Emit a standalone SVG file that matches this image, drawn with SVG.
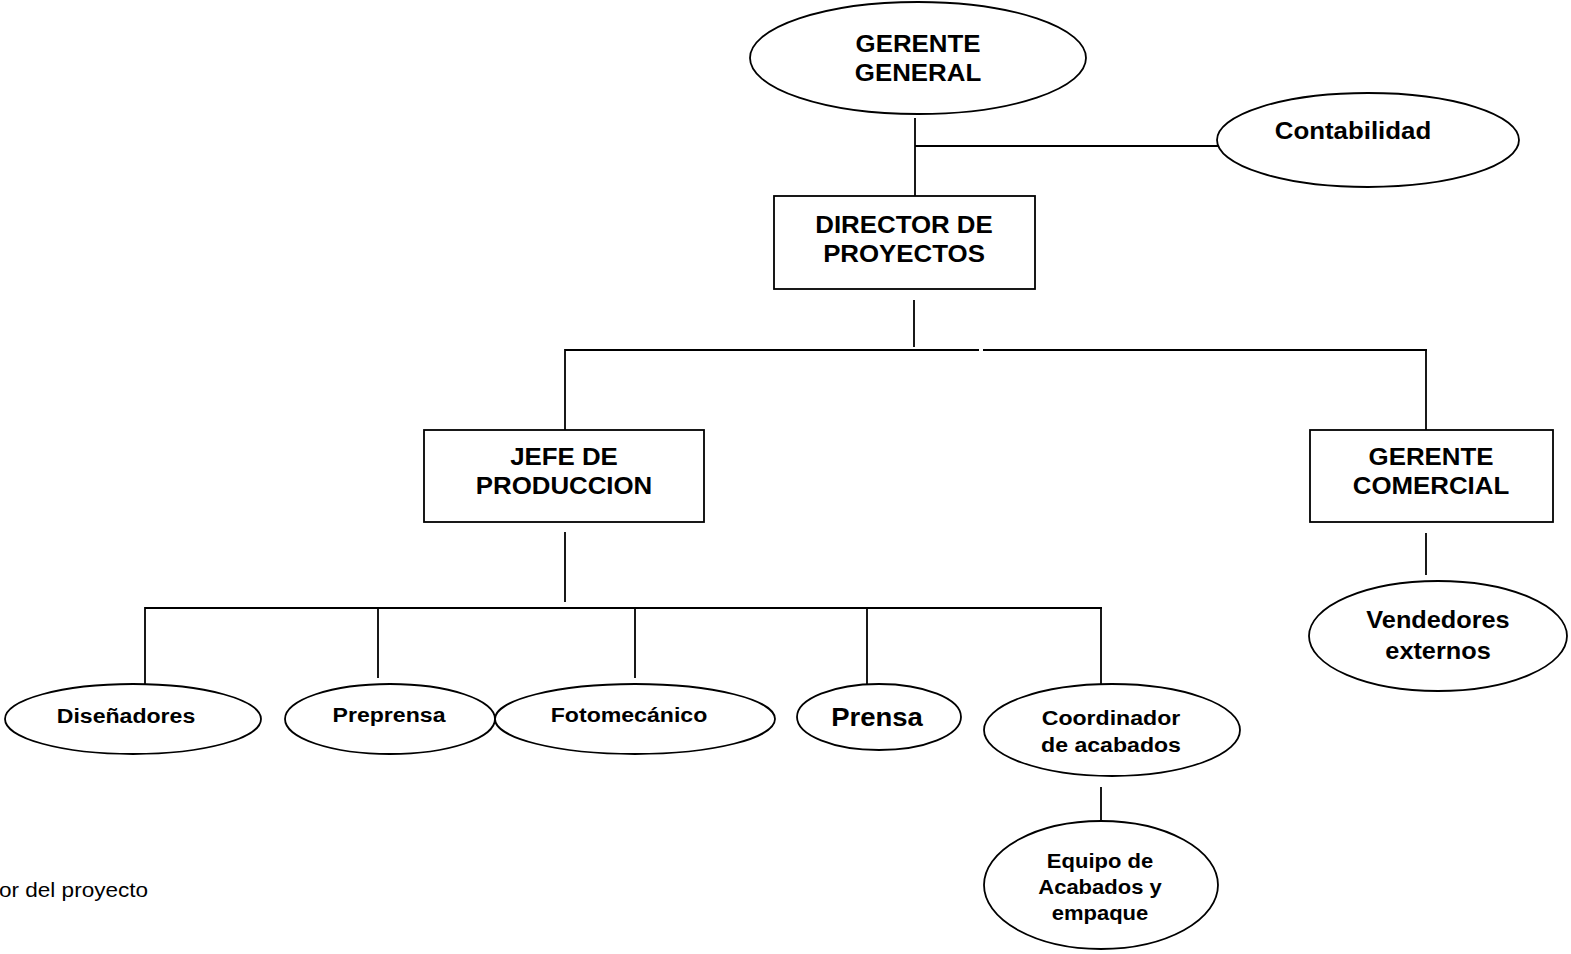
<svg xmlns="http://www.w3.org/2000/svg" width="1571" height="954" viewBox="0 0 1571 954">
<style>
.n{fill:#fff;stroke:#000;stroke-width:1.8}
.c line{stroke:#000;stroke-width:1.8}
text{font-family:"Liberation Sans",Arial,sans-serif;font-weight:bold;fill:#000;text-anchor:middle}
.b{font-size:23.5px}
.s{font-size:21px}
.r{font-weight:normal;text-anchor:start;font-size:20.5px}
</style>
<rect width="1571" height="954" fill="#fff"/>
<g class="c" id="connectors">
<line x1="915" y1="118" x2="915" y2="196"/>
<line x1="915" y1="146" x2="1218" y2="146"/>
<line x1="914" y1="300" x2="914" y2="347"/>
<line x1="565" y1="350" x2="979" y2="350"/>
<line x1="983" y1="350" x2="1427" y2="350"/>
<line x1="565" y1="349" x2="565" y2="430"/>
<line x1="1426" y1="349" x2="1426" y2="430"/>
<line x1="565" y1="532" x2="565" y2="602"/>
<line x1="145" y1="608" x2="1102" y2="608"/>
<line x1="145" y1="607" x2="145" y2="684"/>
<line x1="378" y1="607" x2="378" y2="678"/>
<line x1="635" y1="607" x2="635" y2="678"/>
<line x1="867" y1="607" x2="867" y2="684"/>
<line x1="1101" y1="607" x2="1101" y2="684"/>
<line x1="1101" y1="787" x2="1101" y2="820"/>
<line x1="1426" y1="533" x2="1426" y2="575"/>
</g>
<g id="gerente-general">
<ellipse class="n" cx="918" cy="58" rx="168" ry="56"/>
<text class="b" transform="translate(918 52) scale(1.1 1)">GERENTE</text>
<text class="b" transform="translate(918 81) scale(1.1 1)">GENERAL</text>
</g>
<g id="contabilidad">
<ellipse class="n" cx="1368" cy="140" rx="151" ry="47"/>
<text class="b" transform="translate(1353 139) scale(1.1 1)">Contabilidad</text>
</g>
<g id="director">
<rect class="n" x="774" y="196" width="261" height="93"/>
<text class="b" transform="translate(904 233) scale(1.1 1)">DIRECTOR DE</text>
<text class="b" transform="translate(904 262) scale(1.1 1)">PROYECTOS</text>
</g>
<g id="jefe-produccion">
<rect class="n" x="424" y="430" width="280" height="92"/>
<text class="b" transform="translate(564 465) scale(1.1 1)">JEFE DE</text>
<text class="b" transform="translate(564 494) scale(1.1 1)">PRODUCCION</text>
</g>
<g id="gerente-comercial">
<rect class="n" x="1310" y="430" width="243" height="92"/>
<text class="b" transform="translate(1431 465) scale(1.1 1)">GERENTE</text>
<text class="b" transform="translate(1431 494) scale(1.1 1)">COMERCIAL</text>
</g>
<g id="vendedores">
<ellipse class="n" cx="1438" cy="636" rx="129" ry="55"/>
<text class="b" style="font-size:23px" transform="translate(1438 628) scale(1.1 1)">Vendedores</text>
<text class="b" style="font-size:23px" transform="translate(1438 659) scale(1.1 1)">externos</text>
</g>
<g id="disenadores">
<ellipse class="n" cx="133" cy="719" rx="128" ry="35"/>
<text class="s" transform="translate(126 723) scale(1.1 1)">Diseñadores</text>
</g>
<g id="preprensa">
<ellipse class="n" cx="390" cy="719" rx="105" ry="35"/>
<text class="s" transform="translate(389 722) scale(1.1 1)">Preprensa</text>
</g>
<g id="fotomecanico">
<ellipse class="n" cx="635" cy="719" rx="140" ry="35"/>
<text class="s" transform="translate(629 722) scale(1.1 1)">Fotomecánico</text>
</g>
<g id="prensa">
<ellipse class="n" cx="879" cy="717" rx="82" ry="33"/>
<text class="s" style="font-size:25px" transform="translate(877 726) scale(1.1 1)">Prensa</text>
</g>
<g id="coordinador">
<ellipse class="n" cx="1112" cy="730" rx="128" ry="46"/>
<text class="s" transform="translate(1111 725) scale(1.1 1)">Coordinador</text>
<text class="s" transform="translate(1111 752) scale(1.1 1)">de acabados</text>
</g>
<g id="equipo">
<ellipse class="n" cx="1101" cy="885" rx="117" ry="64"/>
<text class="s" style="font-size:20px" transform="translate(1100 868) scale(1.1 1)">Equipo de</text>
<text class="s" style="font-size:20px" transform="translate(1100 894) scale(1.1 1)">Acabados y</text>
<text class="s" style="font-size:20px" transform="translate(1100 920) scale(1.1 1)">empaque</text>
</g>
<text class="r" transform="translate(-1 897) scale(1.1 1)">or del proyecto</text>
</svg>
